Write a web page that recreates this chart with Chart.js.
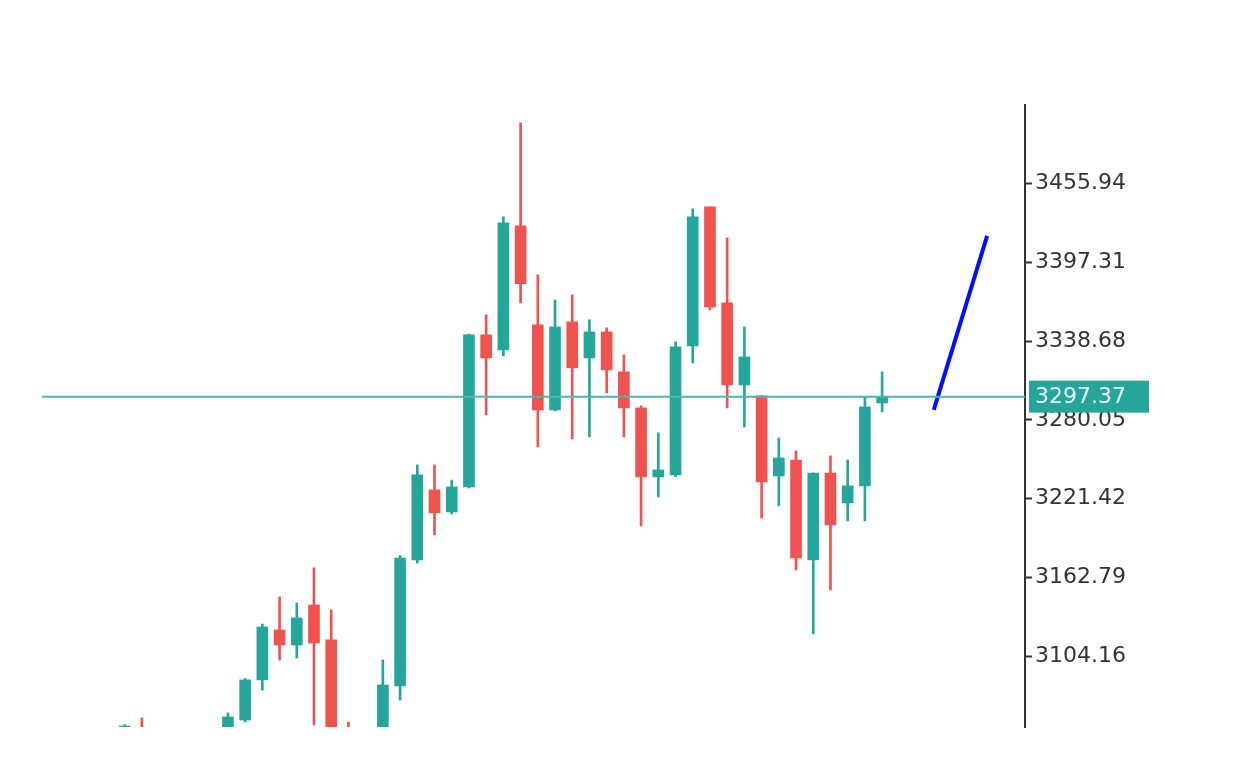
<!DOCTYPE html>
<html><head><meta charset="utf-8">
<script src="https://cdn.jsdelivr.net/npm/chart.js@4"></script>
<style>html,body{margin:0;padding:0;background:#fff}#w{width:1237px;height:766px}</style>
</head><body><div id="w"><canvas id="c"></canvas></div>
<script>
const opens  = [3040,3050,3000,3010,3020,3030,3041.6,3056.5,3086.4,3123.6,3112.4,3142.2,3116.2,3050,3010,3030,3081.9,3175.7,3227.9,3211.5,3230.1,3343.4,3332.2,3424.6,3350.8,3287.5,3353.1,3326.2,3345.6,3315.8,3289,3237.6,3239.1,3335.2,3438.7,3367.2,3306.1,3297.9,3238.3,3250.2,3175.7,3240.5,3218.2,3230.9,3292.7];
const highs  = [3053,3058,3030,3035,3040,3042,3061.8,3087.5,3128,3148.2,3143.7,3169.8,3138.5,3055,3040,3101.2,3179,3246.5,3246.5,3235.3,3344,3358.3,3431.3,3501.3,3388.1,3369.4,3373.2,3354.6,3348.6,3328.5,3290.5,3270.4,3338.2,3437.2,3438.7,3415.6,3349.3,3297.9,3266.6,3257,3240.5,3253.2,3250.2,3297.2,3315.8];
const lows   = [3030,3020,2990,3000,3010,3020,3035,3055,3078.9,3101.2,3102.7,3052.8,3030,3010,3000,3020,3071.4,3173.5,3194.4,3210,3229.3,3283.8,3327.7,3367.2,3259.9,3286.8,3265.9,3267.4,3300.2,3267.4,3201.1,3222.7,3237.6,3322.5,3362,3289,3274.8,3207,3216,3168.3,3120.6,3153.4,3204.8,3204.8,3286];
const closes = [3052,3030,3020,3025,3035,3038,3058.8,3086.4,3125.8,3112.4,3132.5,3113.9,3038,3020,3030,3082.6,3177.2,3239.1,3210.8,3230.1,3343.4,3326.2,3426.8,3381.4,3287.5,3349.3,3318.8,3345.6,3317.3,3289,3237.6,3242.8,3334.4,3431.3,3364.2,3306.1,3327,3233.9,3251.7,3177.2,3240.5,3201.8,3230.9,3289.7,3297.4];
const priceTicks = [3104.16,3162.79,3221.42,3280.05,3338.68,3397.31,3455.94];
const currentPrice = 3297.37;
const trendX = [47.0,50.1];
const trendY = [3287.5,3417.1];

const UP='#26a69a', DN='#ef5350';
const idx = opens.map((_,i)=>i);
const cols = idx.map(i=>closes[i]>=opens[i]?UP:DN);
const bodies = idx.map(i=>({x:i,y:[opens[i],closes[i]]}));
const wicks = idx.map(i=>({x:i,y:[lows[i],highs[i]]}));

const overlay = {
  id:'overlay',
  afterDatasetsDraw(chart){
    const {ctx, chartArea:a, scales:{y}} = chart;
    const py = y.getPixelForValue(currentPrice);
    ctx.save();
    ctx.strokeStyle='#4db6ac'; ctx.lineWidth=2;
    ctx.beginPath(); ctx.moveTo(a.left,py); ctx.lineTo(a.right,py); ctx.stroke();
    ctx.fillStyle='#26a69a';
    ctx.fillRect(a.right+4, py-16, 120, 32);
    ctx.fillStyle='#e8f8f5';
    ctx.font='22px "DejaVu Sans"'; ctx.textBaseline='middle'; ctx.textAlign='left';
    ctx.fillText(currentPrice.toFixed(2), a.right+10, py+1);
    ctx.restore();
  }
};

new Chart(document.getElementById('c'),{
  type:'bar',
  data:{datasets:[
    {data:wicks, backgroundColor:cols, barThickness:2, grouped:false, order:2},
    {data:bodies, backgroundColor:cols, barThickness:11, grouped:false, order:1},
    {type:'line', data:trendX.map((x,i)=>({x,y:trendY[i]})), borderColor:'#0010ff', borderWidth:4, pointRadius:0, order:0}
  ]},
  options:{
    responsive:true, maintainAspectRatio:false, animation:false,
    layout:{padding:{top:105,bottom:39,left:42,right:0}},
    plugins:{legend:{display:false},tooltip:{enabled:false}},
    scales:{
      x:{type:'linear', min:-4.8, max:52.3, display:false, offset:false},
      y:{position:'right', min:3051.3, max:3514.6,
        afterBuildTicks(s){ s.ticks = priceTicks.map(v=>({value:v})); },
        afterFit(s){ s.width=212; },
        border:{display:true,color:'#333',width:2},
        grid:{drawOnChartArea:false, tickLength:7, color:'#333', tickWidth:2},
        ticks:{color:'#333', padding:3, font:{family:'DejaVu Sans', size:22}, callback:v=>v.toFixed(2)}
      }
    }
  },
  plugins:[overlay]
});
</script></body></html>
